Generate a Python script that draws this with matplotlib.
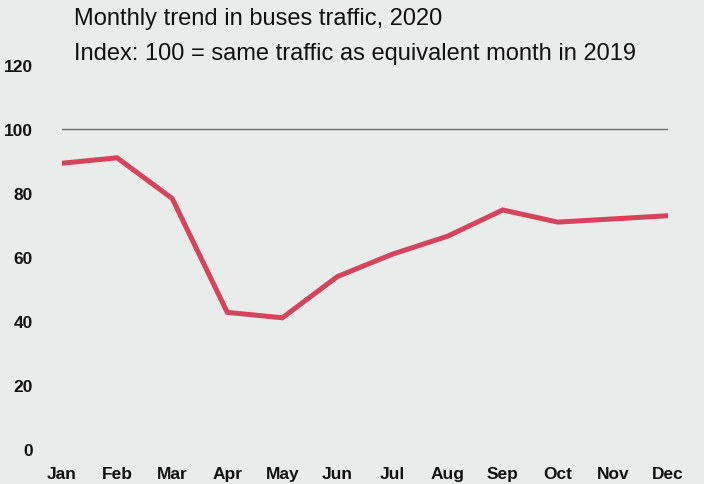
import matplotlib
matplotlib.use("Agg")
import matplotlib.pyplot as plt

BG = "#e9ecea"
LINE = "#d6435d"
REF = "#6e6e6e"
FONT = "Liberation Sans"

months = ["Jan", "Feb", "Mar", "Apr", "May", "Jun",
          "Jul", "Aug", "Sep", "Oct", "Nov", "Dec"]
index_2020 = [89.3, 91.0, 78.3, 42.7, 41.0, 53.9,
              60.9, 66.5, 74.7, 70.9, 71.9, 72.9]
y_ticks = [0, 20, 40, 60, 80, 100, 120]

W, H = 704, 485
fig = plt.figure(figsize=(W / 100, H / 100), dpi=100)
fig.patch.set_facecolor(BG)
ax = fig.add_axes([62 / W, (H - 450) / H, (668 - 62) / W, (450 - 66) / H])
ax.set_facecolor(BG)

x = list(range(len(months)))
ax.plot(x, index_2020, color=LINE, lw=3.6, solid_joinstyle="miter", zorder=3)
ax.axhline(100, color=REF, lw=1.0, zorder=2)

ax.set_xlim(0, len(months) - 1)
ax.set_ylim(0, 120)
ax.set_xticks(x)
ax.set_xticklabels(months)
ax.set_yticks(y_ticks)
for s in ax.spines.values():
    s.set_visible(False)
ax.tick_params(length=0)
ax.tick_params(axis="x", pad=12)
ax.tick_params(axis="y", pad=21)
for lab in ax.get_xticklabels() + ax.get_yticklabels():
    lab.set_fontfamily(FONT)
    lab.set_fontweight("bold")
    lab.set_fontsize(12.5)
    lab.set_color("#111111")

# title block, top left
fig.text(74 / W, 1 - 19 / H, "Monthly trend in buses traffic, 2020",
         fontsize=17, family=FONT, va="center", color="#111111")
fig.text(74 / W, 1 - 54 / H, "Index: 100 = same traffic as equivalent month in 2019",
         fontsize=17, family=FONT, va="center", color="#111111")

fig.savefig("out.png", facecolor=BG)
